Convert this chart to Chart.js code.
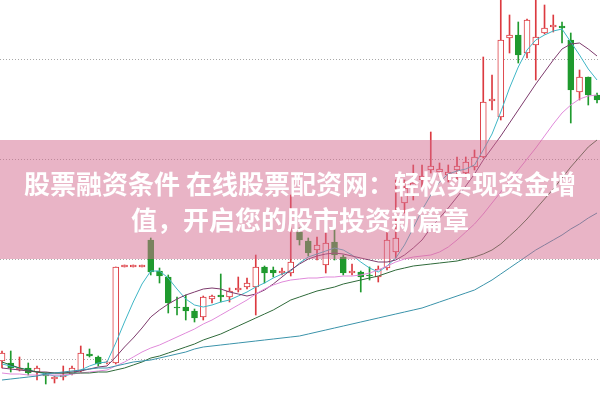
<!DOCTYPE html>
<html>
<head>
<meta charset="utf-8">
<script src="https://cdn.jsdelivr.net/npm/chart.js@4.4.1/dist/chart.umd.min.js"></script>
<style>
  html, body { margin: 0; padding: 0; background: #fff; }
  canvas { display: block; }
</style>
</head>
<body>
<canvas id="myChart" width="600" height="400"></canvas>
<script>
// daily candles
const opens = [10.39, 10.37, 10.30, 10.32, 10.28, 10.26, 10.21, 10.23, 10.26, 10.29,
  10.46, 10.43, 10.37, 10.37, 11.33, 11.33, 11.33, 11.60, 11.29, 11.23,
  10.93, 10.93, 10.89, 10.83, 11.01, 11.05, 11.03, 11.10, 11.13, 11.13,
  11.33, 11.30, 11.27, 11.27, 11.68, 11.59, 11.50, 11.35, 11.58, 11.43,
  11.27, 11.28, 11.25, 11.23, 11.32, 11.48, 11.97, 12.12, 12.20, 12.30,
  12.28, 12.25, 12.30, 12.27, 12.33, 12.43, 12.99, 12.83, 13.62, 13.65,
  13.47, 13.55, 13.67, 13.73, 13.74, 13.60, 13.08, 13.23, 13.05];
const closes = [10.47, 10.32, 10.32, 10.27, 10.32, 10.24, 10.23, 10.25, 10.32, 10.47,
  10.44, 10.36, 10.38, 11.33, 11.35, 11.35, 11.35, 11.28, 11.24, 10.97,
  10.92, 10.89, 10.82, 11.03, 11.04, 11.03, 11.09, 11.12, 11.17, 11.33,
  11.27, 11.27, 11.29, 11.38, 11.60, 11.47, 11.55, 11.57, 11.45, 11.27,
  11.29, 11.23, 11.24, 11.31, 11.60, 11.62, 12.12, 12.17, 12.24, 12.34,
  12.31, 12.28, 12.34, 12.38, 12.43, 12.98, 13.01, 13.60, 13.65, 13.45,
  13.80, 13.63, 13.72, 13.75, 13.72, 13.10, 13.23, 13.05, 13.00];
const highs = [10.49, 10.49, 10.43, 10.37, 10.34, 10.27, 10.24, 10.34, 10.34, 10.54,
  10.51, 10.44, 10.39, 11.33, 11.35, 11.35, 11.35, 11.62, 11.32, 11.25,
  11.03, 11.05, 10.91, 11.04, 11.05, 11.26, 11.12, 11.23, 11.22, 11.45,
  11.34, 11.33, 11.32, 12.05, 11.72, 11.62, 11.63, 11.67, 11.70, 11.45,
  11.36, 11.29, 11.33, 11.34, 11.70, 12.20, 12.20, 12.35, 12.35, 12.68,
  12.37, 12.35, 12.43, 12.43, 12.50, 13.43, 13.25, 14.05, 13.85, 13.78,
  13.81, 14.05, 13.95, 13.85, 13.78, 13.67, 13.30, 13.23, 13.07];
const lows = [10.32, 10.28, 10.29, 10.25, 10.20, 10.16, 10.17, 10.20, 10.25, 10.28,
  10.43, 10.34, 10.36, 10.36, 11.33, 11.33, 11.33, 11.25, 11.17, 10.87,
  10.85, 10.80, 10.78, 10.80, 10.97, 10.98, 10.98, 11.08, 11.11, 10.85,
  11.17, 11.23, 11.25, 11.24, 11.55, 11.44, 11.40, 11.27, 11.40, 11.25,
  11.25, 11.08, 11.20, 11.18, 11.30, 11.42, 11.87, 12.00, 12.13, 12.27,
  12.23, 12.18, 12.20, 12.23, 12.30, 12.42, 12.90, 12.80, 13.47, 13.37,
  13.42, 13.20, 13.66, 13.68, 13.57, 12.77, 13.00, 12.95, 12.97];

// moving average lines
const ma5 = [10.36, 10.34, 10.32, 10.30, 10.28, 10.26, 10.24, 10.24, 10.26, 10.30,
  10.34, 10.37, 10.38, 10.57, 10.78, 10.98, 11.16, 11.29, 11.29, 11.22,
  11.11, 11.01, 10.95, 10.93, 10.95, 10.98, 11.00, 11.04, 11.08, 11.13,
  11.17, 11.22, 11.26, 11.29, 11.37, 11.43, 11.46, 11.49, 11.52, 11.50,
  11.45, 11.38, 11.32, 11.28, 11.34, 11.42, 11.55, 11.72, 11.90, 12.05,
  12.18, 12.26, 12.29, 12.31, 12.35, 12.50, 12.66, 12.88, 13.12, 13.33,
  13.50, 13.60, 13.65, 13.69, 13.71, 13.58, 13.45, 13.31, 13.20];
const ma10 = [10.32, 10.31, 10.30, 10.29, 10.28, 10.28, 10.27, 10.27, 10.28, 10.29,
  10.31, 10.33, 10.34, 10.43, 10.53, 10.62, 10.72, 10.83, 10.90, 10.96,
  11.01, 11.05, 11.08, 11.11, 11.12, 11.11, 11.08, 11.06, 11.04, 11.06,
  11.10, 11.16, 11.23, 11.30, 11.36, 11.41, 11.44, 11.46, 11.47, 11.46,
  11.44, 11.42, 11.40, 11.38, 11.38, 11.40, 11.45, 11.52, 11.60, 11.72,
  11.82, 11.92, 12.03, 12.14, 12.26, 12.40, 12.52, 12.64, 12.77, 12.90,
  13.03, 13.16, 13.28, 13.40, 13.51, 13.56, 13.57, 13.51, 13.44];
const ma20 = [10.27, 10.26, 10.26, 10.25, 10.25, 10.25, 10.25, 10.25, 10.26, 10.27,
  10.28, 10.29, 10.30, 10.34, 10.38, 10.43, 10.48, 10.52, 10.55, 10.59,
  10.63, 10.67, 10.71, 10.76, 10.80, 10.85, 10.90, 10.95, 11.00, 11.06,
  11.11, 11.15, 11.18, 11.20, 11.21, 11.22, 11.22, 11.23, 11.23, 11.24,
  11.24, 11.25, 11.27, 11.30, 11.34, 11.38, 11.41, 11.43, 11.44, 11.45,
  11.48, 11.53, 11.60, 11.68, 11.76, 11.86, 11.97, 12.08, 12.19, 12.30,
  12.41, 12.52, 12.64, 12.76, 12.87, 12.95, 13.01, 13.04, 13.05];
const ma30 = [10.38, 10.35, 10.32, 10.30, 10.28, 10.27, 10.27, 10.27, 10.27, 10.27,
  10.27, 10.28, 10.28, 10.30, 10.32, 10.35, 10.38, 10.42, 10.44, 10.47,
  10.50, 10.53, 10.56, 10.60, 10.63, 10.66, 10.70, 10.74, 10.78, 10.82,
  10.86, 10.90, 10.95, 11.00, 11.03, 11.06, 11.09, 11.11, 11.13, 11.16,
  11.18, 11.20, 11.22, 11.24, 11.27, 11.30, 11.32, 11.34, 11.35, 11.36,
  11.37, 11.38, 11.39, 11.41, 11.43, 11.46, 11.50, 11.56, 11.64, 11.72,
  11.81, 11.91, 12.01, 12.11, 12.22, 12.33, 12.43, 12.53, 12.60];
const ma60 = [10.20, 10.21, 10.22, 10.23, 10.24, 10.26, 10.27, 10.28, 10.29, 10.30,
  10.31, 10.32, 10.32, 10.34, 10.36, 10.38, 10.39, 10.40, 10.42, 10.44,
  10.46, 10.48, 10.51, 10.53, 10.54, 10.55, 10.56, 10.57, 10.58, 10.59,
  10.60, 10.61, 10.62, 10.63, 10.64, 10.66, 10.68, 10.70, 10.72, 10.74,
  10.76, 10.78, 10.80, 10.82, 10.84, 10.86, 10.88, 10.90, 10.92, 10.95,
  10.98, 11.01, 11.04, 11.07, 11.10, 11.15, 11.20, 11.26, 11.32, 11.38,
  11.44, 11.50, 11.55, 11.60, 11.65, 11.71, 11.76, 11.82, 11.87];

const gridTicks = [10.41, 11.41, 12.4, 13.4];
const bannerLines = ["股票融资条件 在线股票配资网：轻松实现资金增", "值，开启您的股市投资新篇章"];

const upColor = "#dc3a40";
const downColor = "#1f9a2e";

const days = opens.map((v, i) => i);
const isUp = days.map((i) => closes[i] >= opens[i]);

// pink strip with the title over the chart
const banner = {
  id: "banner",
  afterDraw(chart) {
    const c = chart.ctx;
    c.save();
    c.fillStyle = "rgba(212,106,142,0.5)";
    c.fillRect(0, 140, chart.width, 119);
    c.fillStyle = "#fff";
    c.font = "bold 26px 'Noto Sans CJK SC'";
    c.textAlign = "center";
    c.textBaseline = "middle";
    c.fillText(bannerLines[0], 300, 184);
    c.fillText(bannerLines[1], 300, 220);
    c.restore();
  },
};

function maLine(values, color) {
  return {
    type: "line",
    data: values.map((v, i) => ({ x: i, y: v })),
    borderColor: color,
    borderWidth: 1,
    pointRadius: 0,
    tension: 0,
    order: 0,
  };
}

const ctx = document.getElementById("myChart");
new Chart(ctx, {
  type: "bar",
  data: {
    datasets: [
      {
        // wicks
        data: days.map((i) => ({ x: i, y: [lows[i], highs[i]] })),
        backgroundColor: days.map((i) => (isUp[i] ? upColor : downColor)),
        barThickness: 1,
        grouped: false,
        order: 3,
      },
      {
        // bodies
        data: days.map((i) => ({ x: i, y: [opens[i], closes[i]] })),
        backgroundColor: days.map((i) => (isUp[i] ? "#ffffff" : downColor)),
        borderColor: days.map((i) => (isUp[i] ? upColor : downColor)),
        borderWidth: 1,
        borderSkipped: false,
        barThickness: 6,
        grouped: false,
        order: 2,
      },
      maLine(ma60, "#3b93aa"),
      maLine(ma30, "#2f6a3a"),
      maLine(ma20, "#e08ada"),
      maLine(ma10, "#7d3a6c"),
      maLine(ma5, "#3fb6c6"),
    ],
  },
  options: {
    responsive: false,
    animation: false,
    layout: { padding: 0 },
    plugins: { legend: { display: false }, tooltip: { enabled: false } },
    scales: {
      x: {
        type: "linear",
        min: -0.229,
        max: 68.34,
        offset: false,
        grid: { offset: false },
        display: false,
      },
      y: {
        type: "linear",
        min: 10,
        max: 14,
        afterBuildTicks: (s) => {
          s.ticks = gridTicks.map((v) => ({ value: v }));
        },
        afterFit: (s) => {
          s.width = 0;
        },
        ticks: { display: false },
        grid: { color: "#a8a8a8", drawTicks: false, lineWidth: 1 },
        border: { display: false, dash: [1, 2] },
      },
    },
  },
  plugins: [banner],
});
</script>
</body>
</html>
